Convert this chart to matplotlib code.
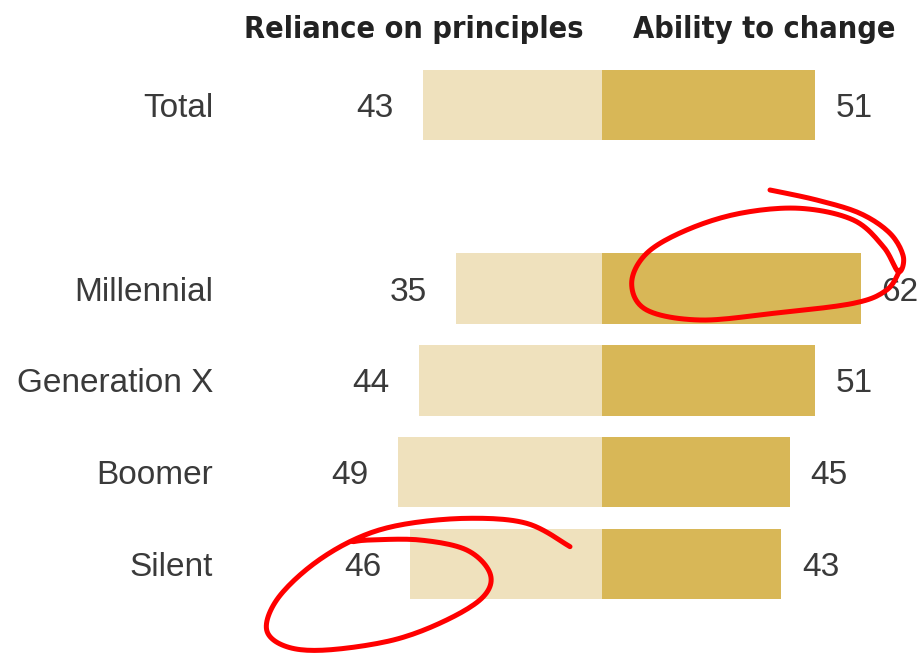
import matplotlib
matplotlib.use("Agg")
import matplotlib.pyplot as plt
import numpy as np

groups = ["Total", "Millennial", "Generation X", "Boomer", "Silent"]
principles = [43, 35, 44, 49, 46]
change = [51, 62, 51, 45, 43]
rows = [0, 2, 3, 4, 5]

light = "#EFE1BD"
dark = "#D8B757"
txt = "#3a3a3a"
body_font = "Liberation Sans"

W, H = 924, 655
fig = plt.figure(figsize=(W / 100, H / 100), dpi=100)
ax = fig.add_axes([0, 0, 1, 1])

# 1 unit ~ 4.17 px, zero line at x=602
px = 4.17
ax.set_xlim(-602 / px, (W - 602) / px)
row_h = 91.8
ax.set_ylim((H - 105) / row_h, -105 / row_h)
ax.axis("off")

ax.barh(rows, [-v for v in principles], height=0.765, color=light)
ax.barh(rows, change, height=0.765, color=dark)

dy = -2.5
for r, g, p, c in zip(rows, groups, principles, change):
    ax.annotate(g, (213 / px - 602 / px, r), xytext=(0, dy), textcoords="offset points",
                ha="right", va="center", fontsize=24, color=txt, family=body_font)
    ax.annotate(str(p), (-p, r), xytext=(-21, dy), textcoords="offset points",
                ha="right", va="center", fontsize=24, color=txt, family=body_font)
    ax.annotate(str(c), (c, r), xytext=(15, dy), textcoords="offset points",
                ha="left", va="center", fontsize=24, color=txt, family=body_font)

hy = -75 / row_h
head = dict(ha="center", va="center", fontsize=22, fontweight="bold", color="#222222",
            family="DejaVu Sans", fontstretch="condensed", textcoords="offset points")
ax.annotate("Reliance on principles", (0, hy), xytext=(-(602 - 414) * 0.72, 0), **head)
ax.annotate("Ability to change", (0, hy), xytext=((764 - 602) * 0.72, 0), **head)


def catmull(pts, n=12):
    pts = np.asarray(pts, float)
    pts = np.vstack([pts[0], pts, pts[-1]])
    out = []
    for i in range(1, len(pts) - 2):
        p0, p1, p2, p3 = pts[i - 1], pts[i], pts[i + 1], pts[i + 2]
        for t in np.linspace(0, 1, n, endpoint=False):
            out.append(0.5 * ((2 * p1) + (-p0 + p2) * t
                              + (2 * p0 - 5 * p1 + 4 * p2 - p3) * t ** 2
                              + (-p0 + 3 * p1 - 3 * p2 + p3) * t ** 3))
    out.append(pts[-2])
    return np.array(out)


# hand-drawn red circles (pixel coords)
loop1 = [(510, 30), (650, 60), (780, 100), (870, 160), (910, 230), (895, 275),
         (850, 200), (760, 120), (600, 85), (420, 100), (260, 150), (140, 220),
         (95, 310), (140, 390), (300, 420), (520, 400), (760, 370), (860, 330), (900, 270)]
loop2 = [(930, 110), (800, 40), (620, 25), (420, 45), (280, 90), (150, 170),
         (50, 270), (20, 360), (80, 410), (200, 420), (400, 390), (560, 330),
         (670, 260), (690, 190), (620, 120), (480, 90), (330, 90), (280, 95)]
for pts, (ox, oy) in [(loop1, (600, 180)), (loop2, (260, 510))]:
    c = catmull([(ox + x / 3, oy + y / 3) for x, y in pts])
    fig.add_artist(plt.Line2D(c[:, 0] / W, 1 - c[:, 1] / H, transform=fig.transFigure,
                              color="#FF0000", lw=3.6, solid_capstyle="round",
                              solid_joinstyle="round"))

fig.savefig("out.png", dpi=100)
